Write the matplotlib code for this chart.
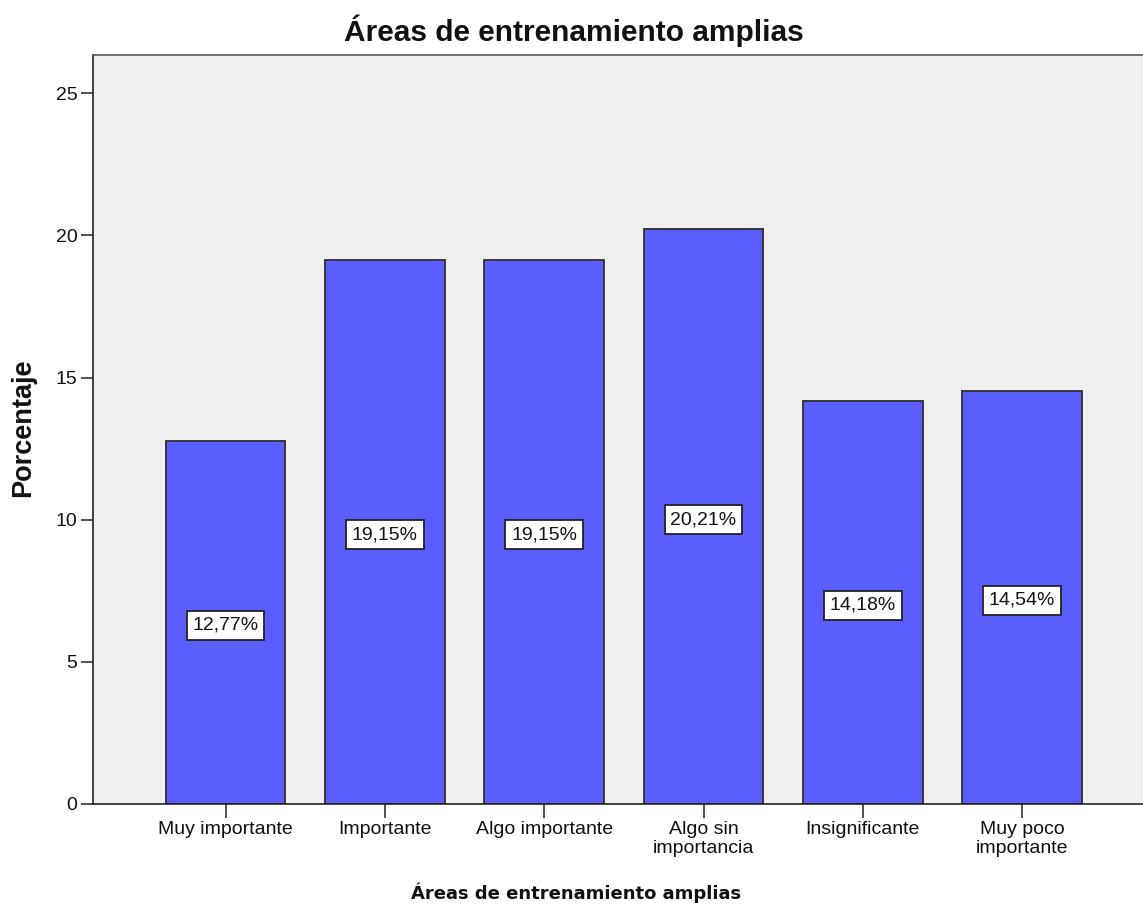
import matplotlib
matplotlib.use("Agg")
import matplotlib.pyplot as plt
from matplotlib.transforms import offset_copy

# Survey responses: share of answers per importance level
categorias = ["Muy importante", "Importante", "Algo importante",
              "Algo sin\nimportancia", "Insignificante", "Muy poco\nimportante"]
porcentajes = [12.77, 19.15, 19.15, 20.21, 14.18, 14.54]
etiquetas = ["12,77%", "19,15%", "19,15%", "20,21%", "14,18%", "14,54%"]
yticks = [0, 5, 10, 15, 20, 25]

titulo = "Áreas de entrenamiento amplias"

W, H, DPI = 1143, 909, 100
fig = plt.figure(figsize=(W / DPI, H / DPI), dpi=DPI)
fig.patch.set_facecolor("white")

# axes box in pixel coordinates (right edge runs past the canvas)
left_px, right_px, top_px, bottom_px = 92.7, 1155.0, 54.5, 804.0
ax = fig.add_axes([left_px / W, 1 - bottom_px / H,
                   (right_px - left_px) / W, (bottom_px - top_px) / H])
ax.set_facecolor("#EFEFEF")

x = list(range(len(categorias)))
ax.bar(x, porcentajes, width=0.75, color="#5A5EFF",
       edgecolor="#2E2E2E", linewidth=1.3, zorder=2)

ax.set_xlim(-0.834, len(categorias) - 1 + 0.834)
ax.set_ylim(0, 26.36)

ax.set_yticks(yticks)
ax.set_yticklabels([str(t) for t in yticks])
ax.set_xticks(x)
ax.set_xticklabels(categorias, linespacing=1.2)

for lab in ax.get_xticklabels() + ax.get_yticklabels():
    lab.set_fontfamily("Liberation Sans")
    lab.set_fontsize(14)
    lab.set_color("#111111")

ax.tick_params(axis="y", length=9, width=1.1, color="#222222", pad=2)
ax.tick_params(axis="x", length=10, width=1.1, color="#222222", pad=2)

for side in ("left", "bottom"):
    ax.spines[side].set_color("#222222")
    ax.spines[side].set_linewidth(1.2)
ax.spines["top"].set_color("#666666")
ax.spines["top"].set_linewidth(1.3)
ax.spines["right"].set_visible(False)

# value labels in white boxes at mid-height of each bar
trans = offset_copy(ax.transData, fig=fig, x=0, y=-3, units="dots")
for xi, v, txt in zip(x, porcentajes, etiquetas):
    ax.text(xi, v / 2, txt, transform=trans, ha="center", va="center",
            fontfamily="Liberation Sans", fontsize=14, color="#111111",
            zorder=3,
            bbox=dict(boxstyle="square,pad=0.3", facecolor="white",
                      edgecolor="#222222", linewidth=1.3))

fig.text(574 / W, 1 - 41 / H, titulo, ha="center", va="baseline",
         fontfamily="Liberation Sans", fontweight="bold", fontsize=21.5,
         color="#111111")
fig.text(576 / W, 1 - 899 / H, titulo, ha="center", va="baseline",
         fontfamily="DejaVu Sans", fontweight="bold", fontsize=13,
         color="#111111")
fig.text(23 / W, 1 - 428 / H, "Porcentaje", ha="center", va="center",
         rotation=90, fontfamily="Liberation Sans", fontweight="bold",
         fontsize=19.5, color="#111111")

fig.savefig("out.png", dpi=DPI)
